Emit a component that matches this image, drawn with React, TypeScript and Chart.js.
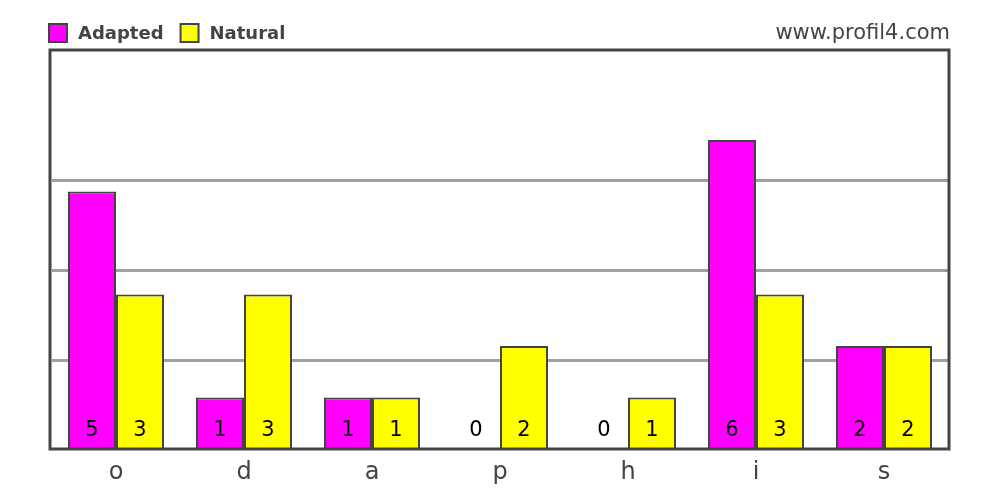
import React, { useRef, useEffect } from 'react';
import { Chart, registerables } from 'chart.js';

Chart.register(...registerables);

const categories = ['o', 'd', 'a', 'p', 'h', 'i', 's'];
const adapted = [5, 1, 1, 0, 0, 6, 2];
const natural = [3, 3, 1, 2, 1, 3, 2];
const gridValues = [1.71, 3.46, 5.21];
const seriesNames = ['Adapted', 'Natural'];
const seriesColors = ['#ff00ff', '#ffff00'];
const siteLabel = 'www.profil4.com';

const FONT = '"DejaVu Sans", sans-serif';
const DARK = '#444444';

const decorPlugin = {
    id: 'decor',
    afterDatasetsDraw(chart: any) {
        const ctx = chart.ctx;
        ctx.save();
        // value labels at bar foot
        ctx.font = `21px ${FONT}`;
        ctx.fillStyle = '#000';
        ctx.textAlign = 'center';
        ctx.textBaseline = 'middle';
        chart.data.datasets.forEach((ds: any, i: number) => {
            const meta = chart.getDatasetMeta(i);
            meta.data.forEach((bar: any, j: number) => {
                ctx.fillText(String(ds.data[j]), bar.x, chart.chartArea.bottom - 18);
            });
        });
        ctx.restore();
    },
    afterDraw(chart: any) {
        const ctx = chart.ctx;
        ctx.save();
        // frame
        ctx.strokeStyle = DARK;
        ctx.lineWidth = 3;
        ctx.strokeRect(50, 50, 899, 399);
        // legend
        let x = 48;
        ctx.font = `bold 18px ${FONT}`;
        ctx.textBaseline = 'middle';
        ctx.textAlign = 'left';
        seriesNames.forEach((name, i) => {
            ctx.fillStyle = seriesColors[i];
            ctx.fillRect(x + 1, 24, 18, 18);
            ctx.strokeStyle = DARK;
            ctx.lineWidth = 2;
            ctx.strokeRect(x + 1, 24, 18, 18);
            ctx.fillStyle = DARK;
            ctx.fillText(name, x + 30, 34);
            x += 30 + ctx.measureText(name).width + 16;
        });
        // site label
        ctx.font = `21px ${FONT}`;
        ctx.textAlign = 'right';
        ctx.fillStyle = DARK;
        ctx.fillText(siteLabel, 950, 34);
        ctx.restore();
    }
};

export default function App() {
    const canvasRef = useRef<HTMLCanvasElement>(null);

    useEffect(() => {
        if (!canvasRef.current) return;
        const chart = new Chart(canvasRef.current, {
            type: 'bar',
            data: {
                labels: categories,
                datasets: [
                    { label: seriesNames[0], data: adapted, backgroundColor: seriesColors[0], borderColor: DARK, borderWidth: 2 },
                    { label: seriesNames[1], data: natural, backgroundColor: seriesColors[1], borderColor: DARK, borderWidth: 2 }
                ]
            },
            options: {
                responsive: false,
                animation: false,
                datasets: { bar: { categoryPercentage: 0.75, barPercentage: 1 } },
                layout: { padding: { left: 52, right: 52, top: 50, bottom: 0 } },
                scales: {
                    x: {
                        grid: { display: false, drawTicks: false },
                        border: { display: false },
                        ticks: { color: DARK, font: { family: FONT, size: 24 }, padding: 9 },
                        afterFit: (s: any) => { s.height = 51; }
                    },
                    y: {
                        min: 0,
                        max: 7.75,
                        border: { display: false },
                        grid: { color: '#a0a0a0', lineWidth: 3, drawTicks: false },
                        ticks: { display: false },
                        afterBuildTicks: (s: any) => { s.ticks = gridValues.map(v => ({ value: v })); },
                        afterFit: (s: any) => { s.width = 0; }
                    }
                },
                plugins: {
                    legend: { display: false },
                    tooltip: { enabled: false }
                }
            },
            plugins: [decorPlugin]
        });
        return () => chart.destroy();
    }, []);

    return (
        <div style={{ position: 'absolute', left: 0, top: 0, width: 1000, height: 500, background: '#fff' }}>
            <canvas ref={canvasRef} width={1000} height={500} />
        </div>
    );
}
